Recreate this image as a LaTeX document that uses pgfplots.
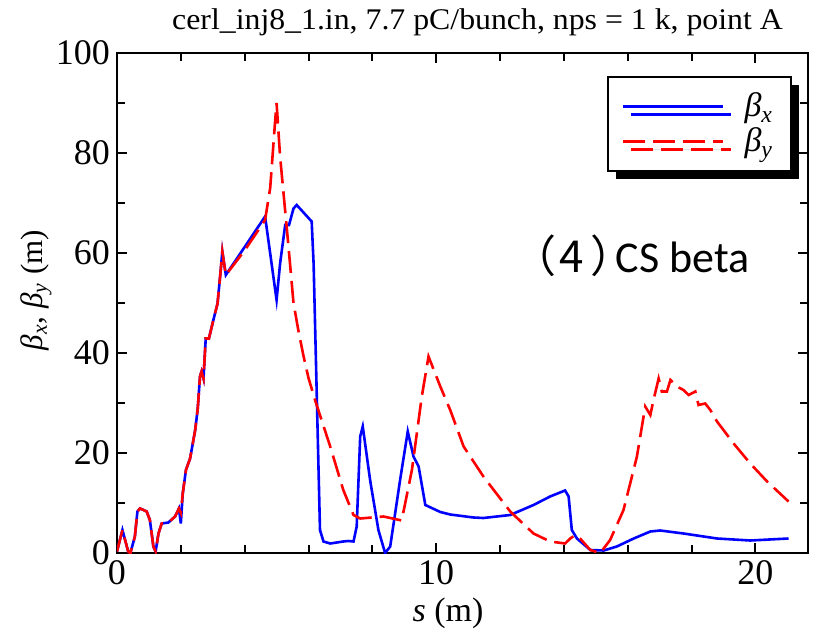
\documentclass[border=0pt]{standalone}
\usepackage{fontspec}
\setmainfont{Liberation Serif}
\newfontfamily\calfont{Carlito}
\newfontfamily\cjk[RawFeature=+palt]{Noto Sans CJK SC}
\usepackage{graphicx}
\usepackage{pgfplots}
\pgfplotsset{compat=1.18}
\usetikzlibrary{shadows}
\begin{document}
\begin{tikzpicture}
\useasboundingbox (0,0) rectangle (407.5pt,316.5pt);
\begin{axis}[
  at={(58.5pt,40pt)}, anchor=south west,
  scale only axis, width=345.5pt, height=250pt,
  xmin=0, xmax=21.65, ymin=0, ymax=100,
  xtick={0,10,20}, minor xtick={2,4,6,8,12,14,16,18},
  ytick={0,20,40,60,80,100}, minor ytick={10,30,50,70,90},
  tick align=inside, tick pos=both,
  major tick length=5pt, minor tick length=4pt,
  axis line style={line width=1.2pt},
  every tick/.style={line width=1pt, black},
  /pgf/number format/assume math mode=true,
  ticklabel style={font=\fontsize{18}{18}\selectfont},
  xlabel={\textit{s} (m)},
  xlabel style={at={(rel axis cs:0.479,-0.12)}, anchor=center, font=\fontsize{17}{19}\selectfont},
  ylabel={\textit{β\textsubscript{x}}, \textit{β\textsubscript{y}} (m)},
  ylabel style={at={(rel axis cs:-0.117,0.526)}, anchor=center, font=\fontsize{15.5}{17}\selectfont},
  legend style={at={(rel axis cs:0.709,0.954)}, anchor=north west, draw=black, line width=1pt, fill=white,
    inner xsep=7pt, inner ysep=6pt, row sep=0pt,
    font=\fontsize{17}{17}\selectfont,
    drop shadow={shadow xshift=4pt, shadow yshift=-4pt, opacity=1, fill=black}},
  legend cell align=left,
  legend image code/.code={\draw[#1] (0pt,0pt) -- (50pt,0pt);},
]
\addplot[blue, line width=1.3pt] coordinates {
(0,0.3) (0.17,4.6) (0.35,0.3) (0.42,0) (0.56,3.3) (0.64,8.3) (0.72,8.9) (0.83,8.6) (0.93,8.3)
(1.03,6.6) (1.14,1.3) (1.21,0.3) (1.30,3.9) (1.40,5.9) (1.61,6.1) (1.82,7.3) (1.94,8.9) (2.00,5.9)
(2.06,11.9) (2.16,16.6) (2.29,18.9) (2.45,24.6) (2.53,28.9) (2.60,35.3) (2.65,36.3) (2.71,34.9)
(2.78,42.9) (2.88,42.9) (3.02,46.6) (3.15,49.9) (3.25,56.6) (3.30,60.3) (3.41,55.6) (4.01,61.3)
(4.64,67.3) (4.80,59.9) (5.00,50.6) (5.11,57.9) (5.27,65.6) (5.39,65.6) (5.53,68.9) (5.63,69.6)
(6.10,66.3) (6.16,57.9) (6.26,31.3) (6.36,4.6) (6.47,2.3) (6.68,1.9) (7.09,2.3) (7.25,2.4) (7.41,2.3)
(7.51,5.3) (7.62,23.3) (7.70,25.3) (7.93,14.6) (8.19,4.6) (8.40,0) (8.56,1.3) (8.87,14.6) (9.11,24.3)
(9.29,19.3) (9.45,17.3) (9.66,9.6) (10.13,8.2) (10.44,7.7) (11.17,7.1) (11.48,7.0) (12.32,7.6)
(13.05,9.6) (13.57,11.3) (14.04,12.5) (14.15,11.3) (14.25,4.6) (14.41,2.9) (14.83,0.6) (15.25,0.5)
(15.66,1.3) (16.19,2.9) (16.71,4.3) (17.02,4.5) (17.75,3.9) (18.80,2.9) (19.84,2.5) (21.04,2.9)
};
\addlegendentry{\hspace{8pt}\textit{β\textsubscript{x}}}
\addplot[red, line width=1.3pt, dash pattern=on 11pt off 4pt] coordinates {
(0,0.3) (0.17,4.6) (0.35,0.3) (0.42,0) (0.56,3.3) (0.64,8.3) (0.72,8.9) (0.83,8.6) (0.93,8.3)
(1.03,6.6) (1.14,1.3) (1.21,0.3) (1.30,3.9) (1.40,5.9) (1.61,6.1) (1.82,7.3) (1.94,8.9) (2.00,8.0)
(2.06,11.9) (2.16,16.6) (2.29,18.9) (2.45,24.6) (2.53,28.9) (2.60,35.3) (2.65,36.3) (2.71,34.9)
(2.78,42.9) (2.88,42.9) (3.02,46.6) (3.15,49.9) (3.25,56.6) (3.30,60.3) (3.41,55.6) (4.01,60.6)
(4.64,66.6) (4.80,73) (4.95,86) (5.00,90) (5.11,79.3) (5.37,61.5) (5.53,50) (5.68,44.6) (5.84,39.5)
(6.00,35) (6.21,30.5) (6.68,21.3) (7.09,12.6) (7.41,7.6) (7.62,6.9) (8.35,7.3) (8.92,6.5) (9.24,16.6)
(9.55,31.3) (9.76,39.3) (10.13,33.3) (10.44,28.6) (10.86,21.3) (11.48,15.3) (12.32,8.3) (13.05,3.9)
(13.57,2.3) (14.04,1.9) (14.20,2.9) (14.36,3.6) (14.51,2.9) (14.83,0.6) (15.14,0) (15.45,2.6)
(15.87,8.6) (16.29,19.3) (16.55,29.3) (16.71,27.6) (16.81,30.6) (16.97,34.9) (17.07,32.3) (17.23,32.3)
(17.34,34.6) (17.54,33.3) (17.75,32.6) (17.91,31.6) (18.12,32.3) (18.22,29.6) (18.43,29.9) (18.59,28.6)
(18.80,26.3) (19.32,21.9) (19.84,17.9) (20.37,14.3) (21.04,10.3)
};
\addlegendentry{\hspace{8pt}\textit{β\textsubscript{y}}}
\end{axis}
\node[anchor=base, inner sep=0pt] at (238.75pt,301.5pt) {\fontsize{15}{17}\selectfont\scalebox{1.06}[1]{cerl\_inj8\_1.in, 7.7 pC/bunch, nps = 1 k, point A}};
\node[anchor=base east, inner sep=0pt] at (375pt,180pt) {\fontsize{22}{24}\selectfont{\cjk （}\kern0.1em{\cjk 4}\kern0.18em{\cjk ）}\kern0.05em{\calfont CS beta}};
\end{tikzpicture}
\end{document}
